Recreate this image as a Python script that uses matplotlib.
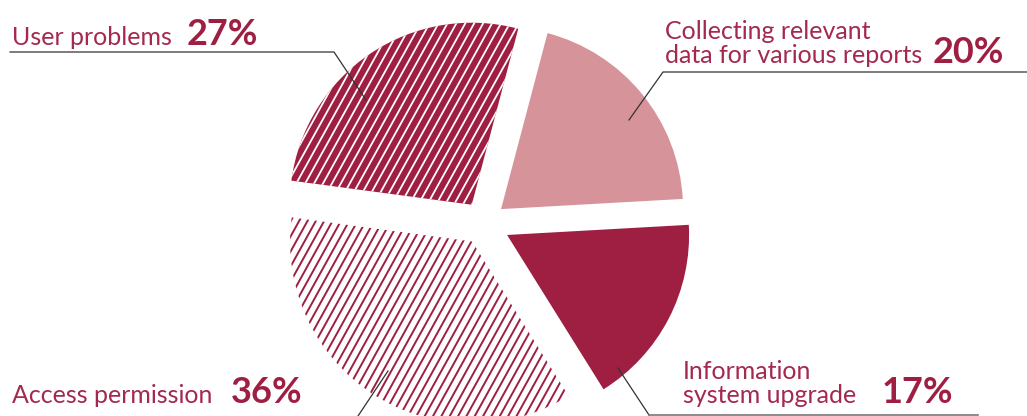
import numpy as np
import matplotlib.pyplot as plt
from matplotlib.collections import LineCollection

# slices, counter-clockwise starting at the lower right
labels = ['Information\nsystem upgrade', 'Collecting relevant\ndata for various reports',
          'User problems', 'Access permission']
values = [17, 20, 27, 36]
pct_labels = ['17%', '20%', '27%', '36%']

dark = '#9e1f42'
pink = '#d6939a'
txt_col = '#a3294f'
H = 416

plt.rcParams['font.family'] = ['Lato', 'DejaVu Sans']

fig = plt.figure(figsize=(10.27, 4.16), dpi=100)
ax = fig.add_axes([0, 0, 1, 1])

wedges, _ = ax.pie(values, startangle=-58, counterclock=True, radius=182,
                   center=(484, 193), explode=[26, 22, 22, 22],
                   colors=[dark, pink, dark, 'white'])
ax.set_xlim(0, 1027)
ax.set_ylim(0, H)
ax.set_aspect('auto')
ax.axis('off')


def hatch(wedge, color, spacing, lw, angle=61):
    cx, cy = wedge.center
    r = wedge.r
    a = np.radians(angle)
    d = np.array([np.cos(a), np.sin(a)])
    n = np.array([-np.sin(a), np.cos(a)])
    segs = []
    for off in np.arange(-r * 1.2, r * 1.2, spacing):
        p = np.array([cx, cy]) + n * off
        segs.append([p - d * r * 1.3, p + d * r * 1.3])
    lc = LineCollection(segs, colors=color, linewidths=lw)
    ax.add_collection(lc)
    lc.set_clip_path(wedge)


hatch(wedges[2], 'white', 7.8, 1.3)
hatch(wedges[3], dark, 7.3, 1.4)

# label text: (x, baseline y in image px) for first line, x of percent
text_pos = [(683, 379, 882), (665, 39, 933), (12, 45, 187), (12, 403, 231)]
for lab, pct, (x, y, px) in zip(labels, pct_labels, text_pos):
    lines = lab.split('\n')
    for i, ln in enumerate(lines):
        ax.text(x, H - (y + 24 * i), ln, fontsize=18, color=txt_col,
                va='baseline', ha='left')
    ax.text(px, H - (y + 24 * (len(lines) - 1)), pct, fontsize=26, color=dark,
            va='baseline', ha='left', fontweight='bold')

# leader lines
lc_col = '#333333'
ax.plot([10, 334, 366], [H - 52, H - 52, H - 100], color=lc_col, lw=0.9)
ax.plot([629, 663, 1027], [H - 120, H - 72, H - 72], color=lc_col, lw=0.9)
ax.plot([618, 649], [H - 368, H - 415], color=lc_col, lw=0.9)
ax.plot([649, 978], [H - 415, H - 415], color='#777777', lw=1.2)
ax.plot([388, 358], [H - 371, H - 416], color=lc_col, lw=0.9)

fig.savefig('out.png', dpi=100)
